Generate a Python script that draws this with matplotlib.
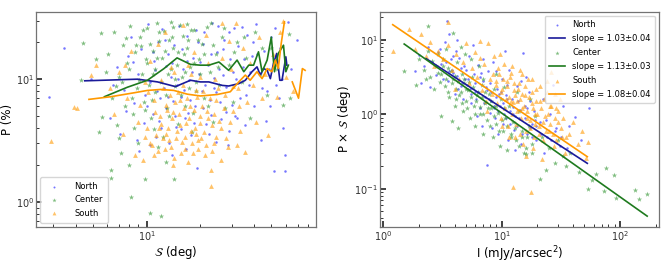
import numpy as np
import matplotlib
matplotlib.use("Agg")
import matplotlib.pyplot as plt

# ---- left panel: S (deg) vs P (%) ----
north_s = [6.2, 6.8, 7.1, 7.5, 7.9, 6.5, 7.7,
           8.2, 8.5, 8.8, 9.0, 9.3, 9.6, 9.8, 8.4, 9.1,
           10.2, 10.5, 10.8, 11.0, 11.3, 11.6, 11.9, 10.4, 11.2, 11.7,
           12.2, 12.5, 12.8, 13.1, 13.4, 13.7, 14.0, 14.3, 14.6, 12.9, 13.9, 14.8,
           15.2, 15.6, 16.0, 16.4, 16.9, 17.3, 17.8, 18.2, 18.7, 19.2, 19.6, 15.8, 17.0, 18.9, 16.6,
           20.3, 20.8, 21.4, 22.0, 22.6, 23.1, 23.7, 24.3, 24.8, 21.0, 22.9, 24.5,
           25.5, 26.2, 27.0, 27.8, 28.5, 29.3, 30.0, 30.8, 31.6, 26.6, 29.0, 31.2,
           32.5, 33.5, 34.5, 35.5, 36.5, 37.5, 38.7, 40.0, 41.2, 42.5, 43.8, 34.0, 39.5,
           45.5, 47.0, 48.5, 50.0, 51.5, 53.0, 55.0, 57.0, 59.4, 59.4, 61.5, 46.5, 52.5, 69.5,
           2.85, 3.45, 4.9,
           10.0, 10.9, 11.4, 12.0, 12.6, 13.2, 13.8, 14.5, 15.0, 15.5, 16.2, 16.8, 17.5, 18.0,
           18.5, 19.4, 20.0, 20.6, 21.3, 22.3, 23.0, 23.8, 25.0, 25.8, 26.8, 28.0, 28.8, 30.4,
           32.0, 33.0, 35.0, 36.0, 38.0, 41.5, 44.5, 49.0, 53.0, 56.0, 58.0, 64.0]
north_p = [4.8, 12.5, 3.6, 8.2, 15.5, 9.0, 5.5,
           22.0, 6.4, 3.2, 11.0, 17.5, 4.4, 7.5, 13.8, 2.6,
           28.0, 9.5, 5.2, 14.0, 3.4, 20.0, 7.0, 2.9, 11.8, 4.6,
           25.5, 8.5, 5.8, 16.0, 3.0, 10.5, 6.6, 19.0, 4.1, 12.8, 2.4, 8.9,
           27.0, 7.2, 12.0, 4.8, 22.5, 9.8, 3.5, 15.0, 6.0, 1.9, 11.0, 17.5, 5.3, 25.0, 2.7,
           8.0, 19.5, 4.3, 13.0, 6.8, 28.5, 10.2, 3.1, 16.5, 24.0, 5.1, 7.8,
           12.0, 4.7, 21.0, 8.6, 2.9, 14.5, 6.2, 26.0, 10.0, 17.5, 3.8, 5.0,
           18.5, 7.0, 12.5, 4.2, 23.0, 9.0, 15.5, 6.0, 28.0, 11.0, 3.2, 26.5, 20.0,
           17.0, 8.0, 12.0, 22.0, 1.8, 14.0, 7.0, 10.0, 2.4, 1.8, 29.0, 4.6, 26.0, 21.0,
           7.2, 18.1, 10.0,
           6.0, 16.5, 8.0, 4.0, 21.0, 7.2, 13.5, 5.0, 10.0, 3.9, 8.2, 14.0, 6.8, 11.5,
           4.4, 20.0, 13.8, 5.8, 9.0, 3.6, 16.0, 8.4, 27.0, 6.5, 10.8, 5.4, 24.0, 11.5,
           4.8, 9.5, 14.5, 7.5, 11.5, 16.0, 8.5, 6.0, 9.0, 18.0, 4.0, 12.0]

center_s = [4.28, 4.38, 5.53, 5.2, 5.6, 5.9, 5.4,
            6.3, 6.3, 6.1, 6.4, 6.6, 6.8, 7.0, 7.2, 7.4, 7.6, 7.8, 7.0, 6.7,
            7.96, 8.2, 8.1, 8.4, 8.6, 8.8, 9.0, 9.2, 9.4, 9.6, 9.75, 9.9, 8.5, 9.3,
            10.4, 12.0, 10.1, 10.3, 10.6, 10.9, 11.2, 11.5, 11.8, 10.7, 11.4, 11.0,
            12.9, 14.3, 12.2, 12.5, 12.8, 13.1, 13.4, 13.7, 14.0, 14.4, 14.7, 12.4, 13.9, 14.9,
            15.3, 15.7, 16.1, 16.5, 17.0, 17.5, 18.0, 18.5, 19.0, 19.6, 16.8, 18.2,
            20.3, 21.0, 21.8, 22.6, 23.5, 24.5, 25.5, 26.5, 27.5, 23.0,
            29.0, 30.5, 32.0, 34.0, 36.0, 38.0, 40.5, 43.0,
            47.0, 50.0, 54.0, 58.0, 62.3, 63.7,
            7.3, 7.7, 8.0, 8.3, 8.7, 9.1, 9.5, 9.8, 10.0, 10.5, 10.8, 11.1, 11.4, 11.7,
            12.1, 12.6, 13.0, 13.3, 13.6, 14.1, 14.5, 15.0, 15.5, 15.9, 16.3, 16.9, 17.3, 17.8,
            18.4, 18.8, 19.3, 20.0, 21.0, 22.0, 23.5, 25.0, 27.0, 31.0, 35.0, 44.0]
center_p = [9.8, 19.8, 23.8, 14.5, 4.9, 11.5, 3.7,
            1.82, 1.57, 16.0, 7.0, 24.0, 4.2, 10.5, 2.5, 19.0, 6.0, 13.5, 3.3, 8.8,
            2.0, 1.09, 27.0, 5.2, 16.5, 8.5, 3.0, 22.0, 11.0, 6.5, 1.55, 14.5, 4.0, 18.5,
            0.81, 0.77, 26.0, 9.0, 4.8, 17.0, 12.0, 2.8, 20.5, 6.8, 28.5, 3.9,
            2.1, 1.54, 15.0, 24.5, 7.5, 11.0, 5.0, 29.0, 18.0, 8.8, 13.0, 3.4, 22.0, 4.3,
            27.5, 10.5, 16.0, 6.0, 21.0, 12.5, 3.7, 25.0, 8.0, 14.5, 28.0, 5.3,
            19.5, 7.0, 26.5, 11.5, 4.5, 16.0, 9.0, 22.0, 5.8, 28.5,
            13.0, 6.5, 20.0, 9.5, 15.0, 4.8, 24.0, 11.0,
            7.5, 18.0, 12.0, 6.2, 23.5, 7.0,
            9.5, 21.5, 12.0, 7.0, 19.0, 9.8, 25.0, 5.6, 13.5, 19.5, 11.0, 7.8, 15.0, 24.0,
            9.5, 17.0, 5.8, 21.0, 12.0, 26.5, 10.0, 16.5, 7.5, 22.5, 11.5, 18.0, 8.5, 25.0,
            13.5, 9.5, 21.0, 11.0, 16.0, 6.0, 19.0, 12.5, 26.0, 16.5, 22.0, 18.0]

south_s = [2.91, 3.93, 4.05, 5.19, 4.9,
           6.2, 6.6, 7.0, 7.4, 7.8, 8.2, 8.6, 8.9, 7.6,
           9.2, 9.5, 9.8, 10.1, 10.4, 10.7, 11.0, 11.3, 11.6, 11.9, 10.2, 11.5,
           12.1, 12.4, 12.7, 13.0, 13.3, 13.6, 13.9, 14.2, 14.5, 14.8, 12.6, 13.5, 14.0, 12.9,
           15.1, 15.5, 15.9, 16.3, 16.7, 17.1, 17.5, 17.9, 18.3, 18.7, 19.1, 19.5, 16.0, 17.7, 18.9, 15.4, 19.8,
           20.2, 20.7, 21.2, 21.7, 22.2, 22.8, 22.8, 23.3, 23.9, 24.5, 21.4, 24.2,
           25.5, 26.5, 27.5, 28.5, 29.5, 30.5, 31.5, 32.5, 33.5, 34.5, 26.0, 29.0,
           35.7, 36.5, 38.0, 39.5, 41.0, 42.5, 44.0, 46.0, 48.0,
           51.0, 53.5, 56.0, 58.0, 60.0, 66.0,
           10.5, 11.1, 11.7, 12.3, 12.8, 13.2, 13.7, 14.1, 14.6, 15.0, 15.3, 15.7, 16.1, 16.5,
           16.9, 17.3, 17.7, 18.1, 18.5, 18.9, 19.3, 19.8, 20.4, 20.9, 21.5, 22.0, 22.6, 23.2,
           23.8, 24.5, 25.2, 26.0, 27.0, 28.0, 29.3, 30.5, 32.0, 33.0, 12.0, 14.3, 17.0, 20.0,
           26.5, 11.0, 9.8]
south_p = [3.13, 5.96, 5.8, 13.0, 10.8,
           8.5, 5.2, 11.5, 3.6, 7.0, 17.0, 2.4, 4.5, 13.0,
           6.2, 2.2, 9.5, 4.0, 14.0, 2.9, 6.8, 3.5, 19.5, 5.0, 7.8, 2.6,
           4.3, 8.5, 2.7, 5.6, 3.2, 12.5, 4.8, 2.3, 6.5, 3.8, 24.0, 7.5, 2.0, 3.6,
           5.2, 2.5, 9.0, 3.4, 4.4, 2.1, 6.0, 3.0, 16.5, 4.0, 7.2, 2.7, 27.5, 11.0, 3.6, 6.8, 5.0,
           3.3, 8.0, 2.4, 5.5, 13.5, 1.36, 1.83, 4.2, 3.0, 6.8, 23.0, 10.0,
           4.6, 28.5, 7.5, 2.8, 12.0, 5.5, 28.5, 8.5, 3.8, 18.0, 2.2, 20.5,
           2.56, 6.5, 13.5, 9.0, 4.5, 22.0, 7.0, 11.0, 3.5,
           16.0, 7.2, 24.0, 29.7, 10.5, 8.0,
           3.0, 5.4, 4.0, 3.3, 6.2, 4.0, 2.8, 5.4, 3.3, 7.8, 4.2, 3.1, 5.8, 2.7,
           7.0, 4.8, 3.8, 2.5, 5.6, 8.2, 3.2, 4.4, 6.0, 3.7, 2.9, 4.8, 7.0, 2.6,
           5.2, 3.4, 8.5, 4.0, 5.8, 3.3, 4.5, 8.8, 2.9, 6.0, 9.8, 11.5, 13.0, 10.5,
           15.0, 2.4, 3.4]

# binned means drawn as lines (nan = empty bin)
north_bin_s = [4.5, 8.9, 11.5, 14.5, 17.6, 20.0, 22.3, 26.5, 28.8, 32.8, 35.7, 38.9, 41.5,
               43.3, 45.2, 47.3, 49.3, 51.3, 53.5, 55.7, 57.3, 60.2, 61.0]
north_bin_p = [9.7, 10.0, 9.5, 8.7, 9.8, 9.5, 9.5, 8.9, 8.8, 9.2, 9.8, 11.5, 12.6,
               10.8, 12.2, 11.8, 10.1, 13.4, 16.2, 9.8, 9.8, 15.2, 13.0]
center_bin_s = [5.8, 7.8, 10.1, 12.5, 14.8, 17.6, 20.0, 22.3, 25.4, 28.8, 32.1, 35.0, 37.3,
                39.7, 42.3, 44.3, 47.3, 49.9, 52.0, 54.6, 58.4, 60.2, 62.2]
center_bin_p = [7.2, 8.6, 9.8, 12.2, 14.9, 13.2, 13.0, 13.0, 13.8, 11.8, 14.3, 11.5, 13.0,
                13.0, 16.7, 11.5, 14.3, 22.0, 11.5, 16.2, 18.9, 11.5, 13.0]
south_bin_s = [4.75, 6.3, 8.5, 10.1, 12.0, 14.2, 16.9, 20.0, 24.8, 29.4, 32.8, 35.7, 38.0,
               41.5, 44.3, 47.3, 50.3, 52.6, 54.6, 56.7, 59.1, np.nan, 65.4, 70.9, 74.5, 77.2]
south_bin_p = [6.85, 7.2, 7.75, 8.1, 8.25, 8.1, 7.55, 7.3, 7.5, 7.9, 9.5, 10.8, 9.8,
               11.5, 10.1, 12.2, 11.5, 14.3, 12.2, 19.5, 29.3, np.nan, 9.5, 7.0, 12.2, 11.8]

# ---- right panel: I (mJy/arcsec^2) vs P x S (deg) ----
north_i = [1.85, 2.0, 2.2, 2.4, 2.6, 2.8, 2.9, 2.1,
           3.1, 3.3, 3.42, 3.5, 3.7, 3.9, 4.1, 4.3, 4.5, 4.7, 4.9, 3.6, 4.4,
           5.1, 5.3, 5.5, 5.8, 6.0, 6.3, 6.6, 6.9, 7.2, 7.46, 7.6, 7.9, 5.7, 6.8, 7.4,
           8.2, 8.5, 8.8, 9.1, 9.4, 9.7, 10.0, 10.3, 10.6, 10.9, 11.3, 11.7, 9.0, 11.0,
           12.2, 12.8, 13.4, 14.0, 14.6, 15.2, 15.8, 16.5, 17.2, 18.0, 18.8, 19.6, 13.0, 16.0,
           21.0, 22.5, 24.0, 25.5, 27.0, 29.0, 31.0, 33.0, 23.0,
           37.0, 42.0, 47.0, 54.7,
           2.5, 3.0, 3.8, 4.2, 4.6, 5.0, 5.4, 6.1, 6.5, 7.0, 8.0, 8.7, 9.5, 10.5, 11.5,
           12.5, 13.8, 14.5, 17.5, 19.0, 4.0, 6.2, 8.3,
           3.2, 3.4, 3.6, 3.9, 4.2, 4.5, 4.8, 5.2, 5.5, 5.9, 6.3, 6.7, 7.1, 7.5, 7.8, 8.1,
           8.6, 9.0, 9.4, 9.8, 10.2, 10.8, 11.2, 11.8, 12.4, 13.0, 13.6, 14.3, 15.0, 15.7,
           16.5, 17.3, 18.2, 19.5, 21.5, 23.5, 26.0, 28.0, 32.0, 36.0]
north_ps = [3.8, 6.2, 4.5, 8.0, 5.0, 3.4, 6.8, 2.6,
            4.8, 9.5, 17.9, 2.8, 5.5, 3.6, 7.2, 2.2, 4.2, 1.6, 3.0, 12.0, 5.8,
            2.5, 6.0, 1.4, 3.5, 2.0, 4.6, 1.2, 2.8, 1.7, 0.21, 3.8, 1.05, 8.5, 0.7, 2.3,
            1.5, 5.0, 0.9, 2.2, 0.55, 1.3, 3.0, 0.75, 7.1, 1.8, 0.45, 1.1, 3.8, 2.5,
            1.6, 0.62, 2.4, 0.9, 0.4, 6.7, 1.3, 0.55, 2.0, 0.75, 1.1, 0.45, 0.33, 3.2,
            0.8, 1.6, 0.5, 1.0, 2.5, 0.65, 0.38, 1.3, 0.3,
            0.7, 0.93, 0.45, 1.2,
            2.3, 7.5, 4.0, 10.0, 2.6, 4.0, 2.2, 1.6, 3.2, 5.5, 2.6, 1.2, 1.9, 1.0, 4.0,
            1.0, 1.5, 2.8, 1.5, 0.85, 1.9, 0.95, 0.65,
            3.0, 5.0, 3.8, 6.0, 3.3, 2.4, 4.5, 3.0, 1.9, 2.6, 2.0, 3.6, 1.4, 2.1, 1.6, 2.0,
            1.3, 1.7, 1.1, 2.0, 1.4, 0.9, 1.6, 0.75, 1.25, 0.95, 0.7, 1.15, 0.55, 0.9,
            1.2, 0.65, 0.5, 0.7, 0.55, 0.85, 0.45, 0.6, 0.5, 0.35]

center_i = [1.5, 1.89, 2.0, 2.2, 2.37, 2.4, 2.5, 2.6, 2.7, 2.8, 2.9, 2.3,
            3.1, 3.1, 3.2, 3.3, 3.5, 3.6, 3.77, 3.85, 3.9, 4.0, 4.1, 4.2, 4.3, 4.4, 4.6, 4.7,
            4.8, 4.9, 3.4, 4.5,
            5.0, 5.2, 5.4, 5.6, 5.8, 6.0, 6.2, 6.4, 6.6, 6.8, 7.0, 7.2, 7.5, 7.8, 5.5, 6.9,
            8.1, 8.4, 8.7, 9.0, 9.3, 9.6, 9.9, 10.3, 10.7, 11.1, 11.5, 11.9, 9.0, 10.5,
            12.5, 13.2, 14.0, 14.8, 15.5, 16.2, 17.0, 18.0, 19.0, 13.5, 16.5, 17.5,
            21.0, 22.0, 23.9, 25.0, 28.0, 30.0, 33.0, 35.0, 38.0,
            45.5, 53.5, 63.0, 74.0, 76.5, 89.8, 93.0, 133.0, 145.0, 168.0, 58.0,
            2.9, 3.0, 3.2, 3.4, 3.5, 3.7, 3.8, 4.0, 4.1, 4.3, 4.5, 4.6, 4.8, 5.0, 5.1, 5.3,
            5.5, 5.7, 5.9, 6.1, 6.3, 6.5, 6.8, 7.0, 7.3, 7.6, 7.9, 8.2, 8.6, 9.0, 9.5, 10.0,
            10.5, 11.0, 12.0, 13.0, 14.0, 15.0, 16.0, 18.0]
center_ps = [3.8, 2.45, 5.5, 4.0, 15.6, 7.0, 3.2, 5.2, 2.2, 4.4, 6.5, 3.0,
             0.95, 3.5, 5.5, 2.4, 4.2, 1.7, 0.81, 12.2, 3.0, 1.3, 2.2, 5.0, 0.65, 1.8, 3.5, 1.1,
             2.6, 6.5, 7.5, 8.0,
             1.5, 2.1, 0.9, 3.2, 1.3, 0.7, 1.8, 4.5, 1.0, 2.5, 0.55, 1.4, 0.85, 1.9, 5.5, 3.0,
             1.2, 0.5, 2.2, 0.75, 1.05, 0.38, 1.6, 0.6, 0.9, 0.33, 1.3, 0.55, 3.5, 2.3,
             0.8, 0.45, 1.1, 0.6, 0.3, 0.29, 0.7, 0.4, 0.95, 2.0, 0.5, 1.6,
             0.134, 0.5, 0.18, 0.35, 0.22, 0.45, 0.28, 0.2, 0.3,
             0.17, 0.098, 0.16, 0.094, 0.19, 0.152, 0.076, 0.096, 0.074, 0.086, 0.13,
             3.6, 2.7, 4.5, 3.0, 2.0, 3.8, 2.6, 3.3, 1.6, 2.8, 2.0, 1.4, 3.0, 2.2, 1.2, 2.7,
             1.7, 2.3, 1.0, 1.5, 2.0, 1.25, 1.7, 1.0, 2.0, 1.2, 0.7, 1.5, 0.95, 1.3, 0.6, 0.85,
             1.2, 0.7, 0.5, 0.65, 0.38, 0.5, 0.35, 0.3]

south_i = [1.21, 1.66, 1.85, 2.1, 2.3, 2.5, 2.7, 2.9,
           3.2, 3.54, 3.5, 3.8, 4.1, 4.4, 4.7, 5.0, 5.3, 5.6, 5.9, 4.0,
           6.2, 6.5, 6.8, 7.1, 7.4, 7.7, 8.0, 8.3, 8.6, 8.9, 6.6, 7.5,
           9.2, 9.5, 9.8, 10.1, 10.4, 10.7, 11.0, 11.3, 11.6, 11.9, 12.2, 12.5, 12.8, 9.7, 11.5, 12.4,
           13.2, 13.6, 14.0, 14.4, 14.8, 15.3, 15.8, 16.3, 16.8, 17.3, 17.6, 17.9, 18.5, 19.1,
           19.7, 14.2, 16.0, 18.8,
           20.5, 21.3, 22.2, 23.1, 24.0, 25.0, 26.3, 27.5, 28.7, 30.0, 31.0, 32.5, 34.0, 22.0, 25.5,
           37.0, 40.0, 44.0, 48.0, 53.6, 52.0,
           8.5, 9.0, 9.4, 9.9, 10.3, 10.8, 11.2, 11.7, 12.0, 12.6, 13.0, 13.4, 13.8, 14.2,
           14.6, 15.0, 15.5, 15.9, 16.4, 16.9, 17.4, 17.9, 18.4, 19.0, 19.5, 20.0, 20.8, 21.5,
           22.3, 23.0, 23.8, 24.6, 25.4, 26.2, 27.0, 28.0, 29.0, 30.0, 31.5, 33.0, 35.0, 12.2,
           14.8, 18.0, 21.0, 24.0, 28.0, 10.0, 13.0, 16.0]
south_ps = [7.07, 14.1, 7.6, 11.9, 6.0, 9.5, 4.5, 7.2,
            5.5, 17.3, 8.5, 4.0, 6.5, 3.0, 5.0, 9.0, 2.6, 4.2, 6.8, 2.2,
            3.2, 9.6, 2.1, 4.8, 1.5, 9.0, 3.0, 1.9, 6.0, 2.5, 5.8, 1.1,
            1.4, 3.5, 0.9, 2.2, 4.8, 1.2, 2.8, 0.7, 1.7, 3.6, 1.0, 0.107, 2.1, 6.5, 0.5, 1.45,
            0.75, 1.5, 2.6, 0.55, 1.2, 0.4, 1.8, 0.9, 3.0, 0.65, 0.09, 1.4, 0.35, 1.0,
            2.2, 4.0, 0.28, 0.5,
            0.7, 1.5, 0.45, 0.95, 2.0, 0.6, 3.7, 0.38, 1.2, 0.8, 1.59, 0.5, 0.3, 0.25, 1.3,
            0.55, 0.8, 0.4, 0.6, 0.42, 0.26,
            3.5, 2.8, 4.2, 2.0, 3.0, 1.6, 2.4, 3.2, 1.5, 2.6, 1.8, 1.1, 2.2, 1.6,
            0.9, 1.9, 1.3, 2.4, 1.1, 1.7, 0.85, 2.0, 1.2, 0.75, 1.5, 1.0, 0.55, 1.2,
            0.8, 1.6, 0.6, 1.0, 0.75, 1.3, 0.55, 0.9, 0.45, 1.1, 0.65, 0.9, 0.5, 4.5,
            3.5, 3.0, 2.4, 2.8, 1.9, 0.7, 0.5, 0.6]

# power-law fits (end points of each fitted line)
north_fit_i = [2.3, 53.0]
north_fit_ps = [5.6, 0.22]
center_fit_i = [1.5, 170.0]
center_fit_ps = [8.8, 0.043]
south_fit_i = [1.2, 53.0]
south_fit_ps = [16.0, 0.27]
slope_labels = ['slope = 1.03±0.04', 'slope = 1.13±0.03', 'slope = 1.08±0.04']

regions = ['North', 'Center', 'South']
pt_colors = ['#2b2bff', '#3a9a3a', '#ffa31a']
ln_colors = ['#1a1a99', '#1e7a1e', '#ff9900']
markers = ['.', '*', '^']
sizes = [13, 16, 12]


def style_axis(ax):
    ax.set_xscale('log')
    ax.set_yscale('log')
    ax.tick_params(which='both', direction='in', labelsize=7, colors='0.2', pad=1.5)
    ax.tick_params(which='major', length=4, width=1.3)
    ax.tick_params(which='minor', length=2, width=0.7)
    for sp in ax.spines.values():
        sp.set_color('0.45')
        sp.set_linewidth(0.9)


fig = plt.figure(figsize=(6.67, 2.63), dpi=100)
ax1 = fig.add_axes([0.054, 0.138, 0.420, 0.818])
ax2 = fig.add_axes([0.570, 0.138, 0.418, 0.818])

# left
left_x = [north_s, center_s, south_s]
left_y = [north_p, center_p, south_p]
bin_x = [north_bin_s, center_bin_s, south_bin_s]
bin_y = [north_bin_p, center_bin_p, south_bin_p]
for k in range(3):
    ax1.scatter(left_x[k], left_y[k], s=sizes[k], marker=markers[k], color=pt_colors[k],
                alpha=0.65, linewidths=0, label=regions[k])
for k in range(3):
    ax1.plot(bin_x[k], bin_y[k], color=ln_colors[k], lw=1.2)
style_axis(ax1)
ax1.set_xlim(2.4, 89)
ax1.set_ylim(0.63, 35.5)
ax1.set_xlabel(r'$\mathcal{S}$ (deg)', fontsize=8.5, labelpad=1)
ax1.set_ylabel('P (%)', fontsize=8.5, labelpad=1)
ax1.legend(loc='lower left', fontsize=6, markerscale=0.8, handletextpad=1.5,
           borderpad=0.6, labelspacing=0.5)

# right
right_x = [north_i, center_i, south_i]
right_y = [north_ps, center_ps, south_ps]
fit_x = [north_fit_i, center_fit_i, south_fit_i]
fit_y = [north_fit_ps, center_fit_ps, south_fit_ps]
handles = []
for k in range(3):
    h = ax2.scatter(right_x[k], right_y[k], s=sizes[k], marker=markers[k], color=pt_colors[k],
                    alpha=0.65, linewidths=0, label=regions[k])
    handles.append(h)
for k in range(3):
    l, = ax2.plot(fit_x[k], fit_y[k], color=ln_colors[k], lw=1.2, label=slope_labels[k])
    handles.insert(2 * k + 1, l)
style_axis(ax2)
ax2.set_xlim(0.94, 214)
ax2.set_ylim(0.031, 24)
ax2.set_xlabel(r'I (mJy/arcsec$^2$)', fontsize=8.5, labelpad=1)
ax2.set_ylabel(r'P $\times$ $\mathcal{S}$ (deg)', fontsize=8.5, labelpad=1)
ax2.legend(handles=handles, loc='upper right', fontsize=6, markerscale=0.8,
           borderpad=0.5, labelspacing=0.6)

fig.savefig('out.png', dpi=100)
